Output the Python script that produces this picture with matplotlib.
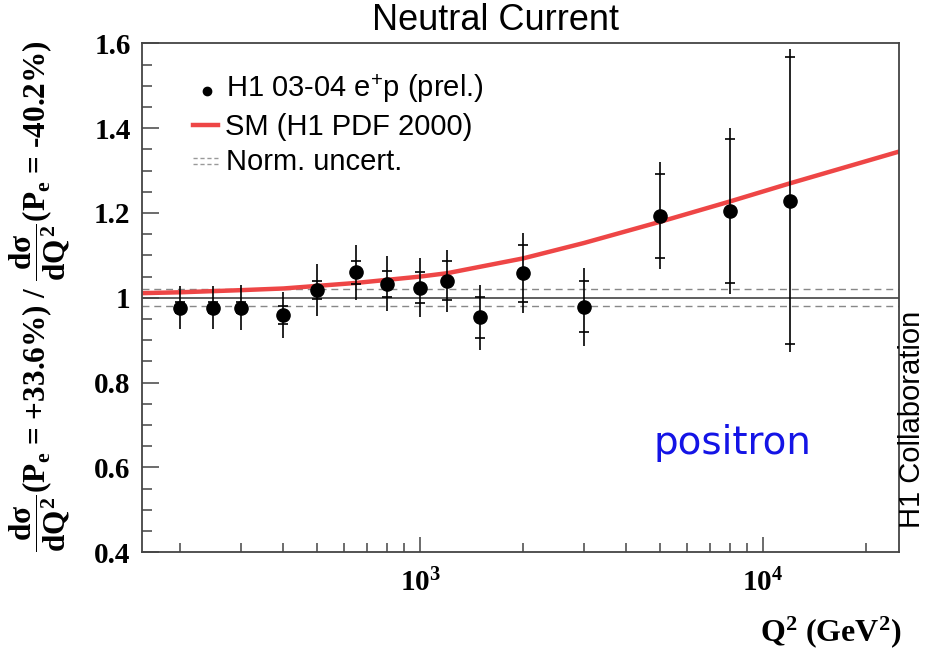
import numpy as np
import matplotlib
matplotlib.use('Agg')
import matplotlib.pyplot as plt
from matplotlib.ticker import FixedLocator, FixedFormatter, NullFormatter
from matplotlib.lines import Line2D

# ---- data ----
q2 = [200, 250, 300, 400, 500, 650, 800, 1000, 1200, 1500, 2000, 3000, 5000, 8000, 12000]
ratio = [0.977, 0.977, 0.977, 0.959, 1.018, 1.060, 1.033, 1.024, 1.040, 0.954,
         1.058, 0.979, 1.193, 1.205, 1.229]
err_tot = [0.050, 0.050, 0.052, 0.054, 0.062, 0.065, 0.065, 0.070, 0.073, 0.076,
           0.095, 0.092, 0.126, 0.195, 0.357]
err_stat = [0.013, 0.013, 0.014, 0.021, 0.022, 0.027, 0.031, 0.037, 0.046, 0.049,
            0.067, 0.060, 0.100, 0.170, 0.338]

sm_q2 = [155, 200, 300, 400, 650, 1000, 1200, 2000, 3000, 5000, 8000, 12000, 25000]
sm_val = [1.011, 1.013, 1.018, 1.022, 1.035, 1.050, 1.058, 1.093, 1.129, 1.179,
          1.227, 1.270, 1.345]

norm_up = 1.020
norm_down = 0.981

y_major = [0.4, 0.6, 0.8, 1.0, 1.2, 1.4, 1.6]
y_labels = ['0.4', '0.6', '0.8', '1', '1.2', '1.4', '1.6']
x_major = [1e3, 1e4]
x_labels = [r'$10^{3}$', r'$10^{4}$']

# ---- style ----
plt.rcParams['mathtext.fontset'] = 'custom'
plt.rcParams['mathtext.rm'] = 'Liberation Serif:bold'
plt.rcParams['mathtext.it'] = 'Liberation Serif:bold'
plt.rcParams['mathtext.bf'] = 'Liberation Serif:bold'
plt.rcParams['mathtext.sf'] = 'Liberation Sans'

W, H = 927, 651
fig = plt.figure(figsize=(W / 100, H / 100), dpi=100)


def fx(px):
    return px / W


def fy(py):
    return 1 - py / H


ax = fig.add_axes([fx(141.7), fy(552.3), fx(899) - fx(141.7), fy(43.3) - fy(552.3)])
ax.set_xscale('log')
ax.set_xlim(154.4, 24920)
ax.set_ylim(0.4, 1.6)

frame_c = '#444444'
for s in ax.spines.values():
    s.set_color(frame_c)
    s.set_linewidth(1.3)

# reference lines
ax.axhline(1.0, color='#333333', lw=1.1, zorder=1)
ax.axhline(norm_up, color='#888888', lw=1.0, ls=(0, (5, 3.5)), zorder=1)
ax.axhline(norm_down, color='#888888', lw=1.0, ls=(0, (5, 3.5)), zorder=1)

# SM curve
ax.plot(sm_q2, sm_val, color='#ee4646', lw=3.2, zorder=2, solid_capstyle='butt')

# data
r = np.array(ratio)
st = np.array(err_stat)
ax.errorbar(q2, r, yerr=err_tot, fmt='o', color='black', ms=9.5, elinewidth=1.2,
            capsize=0, zorder=4)
ax.plot(q2, r + st, ls='none', marker='_', ms=7, mew=1.2, color='black', zorder=4)
ax.plot(q2, r - st, ls='none', marker='_', ms=7, mew=1.2, color='black', zorder=4)

# ticks
ax.yaxis.set_major_locator(FixedLocator(y_major))
ax.yaxis.set_major_formatter(FixedFormatter(y_labels))
ax.yaxis.set_minor_locator(FixedLocator(np.arange(0.45, 1.6, 0.05)))
ax.xaxis.set_major_locator(FixedLocator(x_major))
ax.xaxis.set_major_formatter(FixedFormatter(x_labels))
minors = [m * d for d in (100, 1000, 10000) for m in range(2, 10)]
ax.xaxis.set_minor_locator(FixedLocator(minors))
ax.xaxis.set_minor_formatter(NullFormatter())

ax.tick_params(axis='both', which='both', direction='in', top=False, right=False,
               color=frame_c, width=1.1)
ax.tick_params(axis='y', which='major', length=12, pad=8)
ax.tick_params(axis='y', which='minor', length=7)
ax.tick_params(axis='x', which='major', length=11, pad=12)
ax.tick_params(axis='x', which='minor', length=6.5)
for lab in ax.get_yticklabels() + ax.get_xticklabels():
    lab.set_fontfamily('Liberation Serif')
    lab.set_fontweight('bold')
    lab.set_fontsize(21)

# title
fig.text(fx(496), fy(21), 'Neutral Current', ha='center', va='center',
         family='Liberation Sans', fontsize=26)

# axis labels
fig.text(fx(901), fy(641), r'Q$^{\mathbf{2}}$ (GeV$^{\mathbf{2}}$)', ha='right',
         va='baseline', family='Liberation Serif', weight='bold', fontsize=23)
ylab = (r'$\dfrac{d\sigma}{dQ^2}$(P$_e$ = +33.6%) / '
        r'$\dfrac{d\sigma}{dQ^2}$(P$_e$ = -40.2%)')
fig.text(fx(40), fy(296), ylab, rotation=90, ha='center', va='center',
         family='Liberation Serif', weight='bold', fontsize=22.5)

# legend
fig.text(fx(226), fy(96.7), r'H1 03-04 e$^{\mathsf{+}}$p (prel.)',
         family='Liberation Sans', fontsize=21, va='baseline')
fig.text(fx(225), fy(135), 'SM (H1 PDF 2000)',
         family='Liberation Sans', fontsize=21, va='baseline')
fig.text(fx(226), fy(170), 'Norm. uncert.',
         family='Liberation Sans', fontsize=21, va='baseline')
fig.add_artist(Line2D([fx(207)], [fy(91)], marker='o', ms=6, color='black',
                      transform=fig.transFigure))
fig.add_artist(Line2D([fx(193), fx(218)], [fy(125), fy(125)], color='#ee4646',
                      lw=3.2, transform=fig.transFigure))
for yy in (158, 164):
    fig.add_artist(Line2D([fx(193), fx(218)], [fy(yy), fy(yy)], color='#999999',
                          lw=1.0, ls=(0, (3, 2)), transform=fig.transFigure))

# annotations
fig.text(fx(912), fy(419), 'H1 Collaboration', rotation=90, ha='center',
         va='center', family='Liberation Sans', fontsize=21)
fig.text(fx(732), fy(443), 'positron', ha='center', va='center',
         family='DejaVu Sans', fontsize=28, color='#1414e6')

fig.savefig('out.png', dpi=100)
